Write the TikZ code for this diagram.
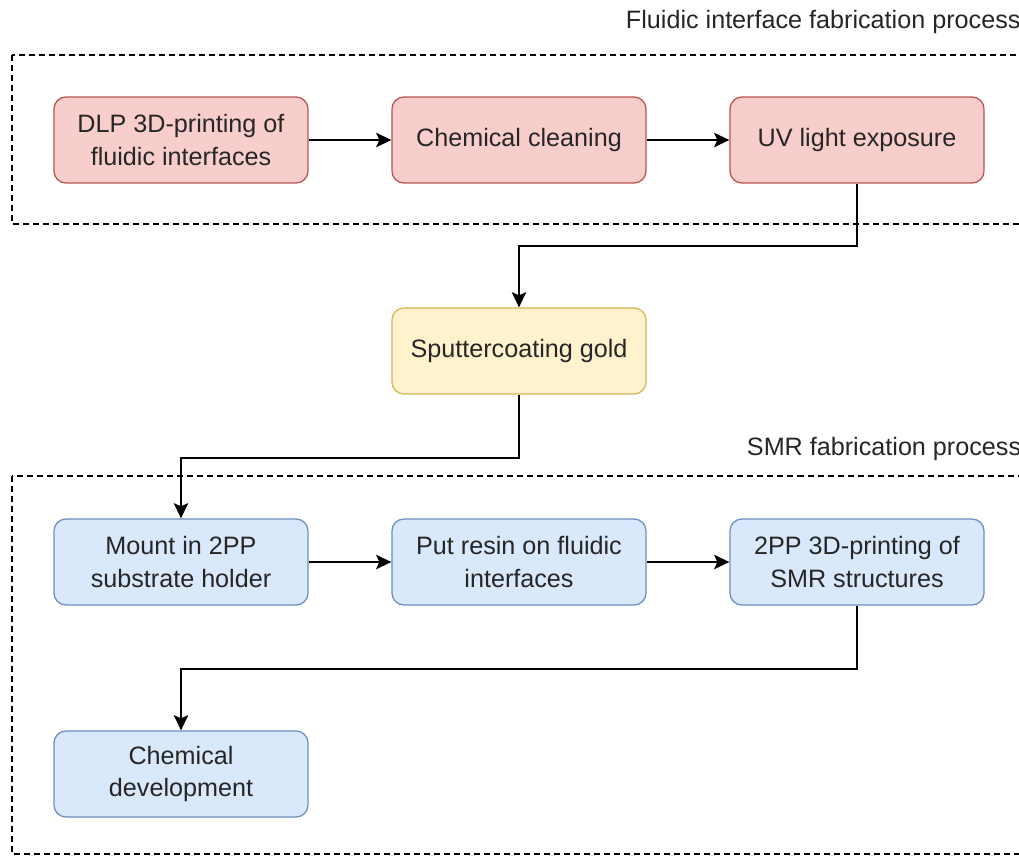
\documentclass[tikz,border=0pt]{standalone}
\usepackage{fontspec}
\setmainfont{Liberation Sans}
\usepackage{xcolor}
\usetikzlibrary{arrows.meta, positioning}

\definecolor{redfill}{HTML}{F8CECC}
\definecolor{redline}{HTML}{B85450}
\definecolor{yellowfill}{HTML}{FFF2CC}
\definecolor{yellowline}{HTML}{D6B656}
\definecolor{bluefill}{HTML}{DAE8FC}
\definecolor{blueline}{HTML}{6C8EBF}

\tikzset{
    stepbox/.style={rounded corners=0.3cm, minimum width=6.35cm, minimum height=2.15cm,
        align=center, line width=0.9pt, text=black!85,
        font=\fontsize{17.9}{23}\selectfont},
    redbox/.style={stepbox, fill=redfill, draw=redline},
    yellowbox/.style={stepbox, fill=yellowfill, draw=yellowline},
    bluebox/.style={stepbox, fill=bluefill, draw=blueline},
    flow/.style={-{Stealth[length=0.38cm, width=0.36cm, inset=0.08cm]}, line width=1.3pt},
    groupbox/.style={dashed, dash pattern=on 0.15cm off 0.1cm, line width=1.2pt},
    grouplabel/.style={anchor=west, text=black!85, font=\fontsize{17.9}{22}\selectfont}
}

\begin{document}
\begin{tikzpicture}[x=0.025cm, y=-0.025cm]
    \useasboundingbox (0, 0) rectangle (1019, 857);
    \clip (0, 0) rectangle (1019, 857);

    % Fluidic interface fabrication process
    \draw[groupbox] (12, 55) rectangle (1040, 224);
    \node[grouplabel] (fluidlabel) at (621, 22) {Fluidic interface fabrication process};

    \node[redbox] (dlp) at (181, 140) {DLP 3D-printing of\\fluidic interfaces};
    \node[redbox] (clean) at (519, 140) {Chemical cleaning};
    \node[redbox] (uv) at (857, 140) {UV light exposure};

    % Sputtercoating
    \node[yellowbox] (sputter) at (519, 351) {Sputtercoating gold};

    % SMR fabrication process
    \draw[groupbox] (12, 476) rectangle (1040, 854);
    \node[grouplabel] (smrlabel) at (742, 449) {SMR fabrication process};

    \node[bluebox] (mount) at (181, 562) {Mount in 2PP\\substrate holder};
    \node[bluebox] (resin) at (519, 562) {Put resin on fluidic\\interfaces};
    \node[bluebox] (print) at (857, 562) {2PP 3D-printing of\\SMR structures};
    \node[bluebox] (develop) at (181, 774) {Chemical\\development};

    % Verbindungen
    \draw[flow] (dlp) -- (clean);
    \draw[flow] (clean) -- (uv);
    \draw[flow] (uv.south) -- ++(0, 62) -| (sputter.north);
    \draw[flow] (sputter.south) -- ++(0, 63) -| (mount.north);
    \draw[flow] (mount) -- (resin);
    \draw[flow] (resin) -- (print);
    \draw[flow] (print.south) -- ++(0, 63) -| (develop.north);
\end{tikzpicture}
\end{document}
